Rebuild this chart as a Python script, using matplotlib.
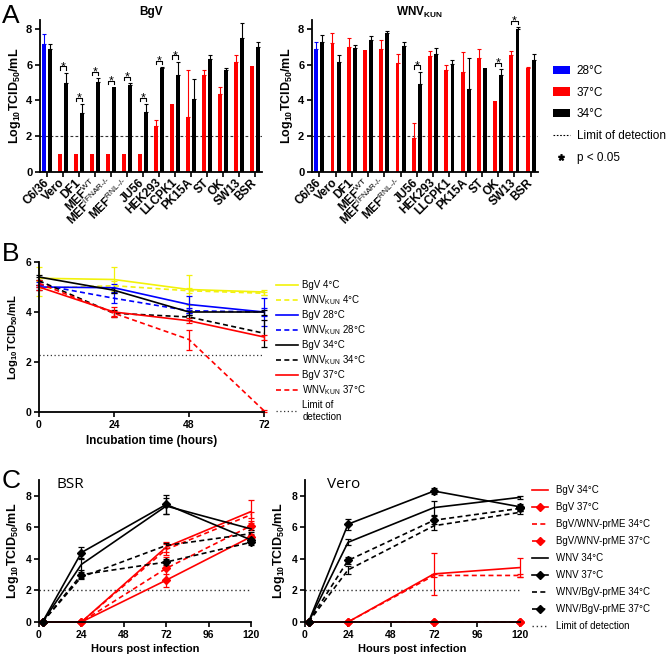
import matplotlib
matplotlib.use("Agg")
import matplotlib.pyplot as plt
from matplotlib.patches import Patch
from matplotlib.lines import Line2D
import numpy as np

plt.rcParams["font.family"] = ["Liberation Sans", "DejaVu Sans"]
plt.rcParams["mathtext.fontset"] = "custom"
plt.rcParams["mathtext.rm"] = "Liberation Sans"
plt.rcParams["mathtext.it"] = "Liberation Sans:italic"
plt.rcParams["mathtext.bf"] = "Liberation Sans:bold"

# ---------------- panel A : titres par lignée cellulaire ----------------
cells = ["C6/36", "Vero", "DF1", r"MEF$^{\rm WT}$", r"MEF$^{\text{IFNAR-/-}}$",
         r"MEF$^{\text{RNL-/-}}$", "JU56", "HEK293", "LLCPK1", "PK15A", "ST", "OK", "SW13", "BSR"]
bgv_warm = [7.15, 1.0, 1.0, 1.0, 1.0, 1.0, 1.0, 2.6, 3.8, 3.05, 5.45, 4.35, 6.15, 5.95]
bgv_warm_err = [0.55, 0, 0, 0, 0, 0, 0, 0.3, 0, 2.65, 0.25, 0.4, 0.4, 0]
bgv_34 = [6.9, 4.95, 3.3, 5.05, 4.75, 4.85, 3.35, 5.8, 5.45, 4.1, 6.3, 5.7, 7.5, 7.0]
bgv_34_err = [0.25, 0.6, 0.5, 0.2, 0, 0.12, 0.45, 0.08, 0.72, 1.1, 0.22, 0.1, 0.85, 0.25]
bgv_sig = [1, 2, 3, 4, 5, 6, 7, 8]

wnv_warm = [6.9, 7.2, 7.0, 6.8, 6.87, 6.08, 1.88, 6.48, 5.72, 5.58, 6.4, 3.95, 6.55, 5.8]
wnv_warm_err = [0.37, 0.55, 0.52, 0, 0.5, 0.5, 0.84, 0.3, 0.25, 1.15, 0.5, 0, 0.2, 0.05]
wnv_34 = [7.25, 6.15, 6.96, 7.4, 7.75, 7.06, 4.9, 6.62, 6.06, 4.63, 5.8, 5.45, 8.0, 6.27]
wnv_34_err = [0.4, 0.42, 0.15, 0.22, 0.12, 0.22, 0.72, 0.32, 0.2, 1.72, 0, 0.3, 0.12, 0.35]
wnv_sig = [6, 11, 12]

# ---------------- panel B : stabilité ----------------
hours_b = [0, 24, 48, 72]
b_labels = ["BgV 4°C", r"WNV$_{\rm KUN}$ 4°C", "BgV 28°C", r"WNV$_{\rm KUN}$ 28°C",
            "BgV 34°C", r"WNV$_{\rm KUN}$ 34°C", "BgV 37°C", r"WNV$_{\rm KUN}$ 37°C"]
b_means = [[5.35, 5.3, 4.9, 4.8],
           [4.95, 5.05, 4.85, 4.75],
           [5.0, 4.97, 4.3, 4.0],
           [5.1, 4.55, 4.05, 4.0],
           [5.4, 4.87, 4.0, 4.0],
           [5.25, 3.95, 3.8, 3.15],
           [5.0, 4.0, 3.65, 3.0],
           [5.15, 3.95, 2.9, 0.05]]
b_errs = [[0.45, 0.5, 0.6, 0.1],
          [0.3, 0.2, 0.1, 0.05],
          [0.1, 0.15, 0.35, 0.55],
          [0.1, 0.2, 0.1, 0.15],
          [0.1, 0.1, 0.1, 0.1],
          [0.15, 0.15, 0.1, 0.55],
          [0.1, 0.2, 0.1, 0.1],
          [0.15, 0.1, 0.4, 0.05]]
b_lod = 2.3

# ---------------- panel C : cinétiques ----------------
hours_c = [2, 24, 72, 120]
c_labels = ["BgV 34°C", "BgV 37°C", "BgV/WNV-prME 34°C", "BgV/WNV-prME 37°C",
            "WNV 34°C", "WNV 37°C", "WNV/BgV-prME 34°C", "WNV/BgV-prME 37°C"]
bsr_means = [[0, 0, 4.75, 7.0],
             [0, 0, 2.65, 5.4],
             [0, 0, 4.6, 6.8],
             [0, 0, 3.4, 6.1],
             [0, 3.65, 7.35, 5.9],
             [0, 4.4, 7.45, 5.2],
             [0, 2.85, 4.85, 5.6],
             [0, 3.0, 3.8, 5.05]]
bsr_errs = [[0, 0, 0.3, 0.75],
            [0, 0, 0.4, 0.2],
            [0, 0, 0.35, 0.2],
            [0, 0, 0.7, 0.3],
            [0, 0.35, 0.5, 0.1],
            [0, 0.35, 0.6, 0.15],
            [0, 0.1, 0.15, 0.1],
            [0, 0.2, 0.2, 0.2]]
vero_means = [[0, 0, 3.05, 3.45],
              [0, 0, 0, 0],
              [0, 0, 2.95, 2.95],
              [0, 0, 0, 0],
              [0, 5.05, 7.25, 7.9],
              [0, 6.2, 8.3, 7.3],
              [0, 3.3, 6.1, 6.95],
              [0, 3.9, 6.45, 7.2]]
vero_errs = [[0, 0, 1.35, 0.6],
             [0, 0, 0, 0],
             [0, 0, 0.1, 0.1],
             [0, 0, 0, 0],
             [0, 0.2, 0.45, 0.1],
             [0, 0.35, 0.2, 0.2],
             [0, 0.25, 0.3, 0.1],
             [0, 0.2, 0.25, 0.15]]
c_lod = 2.0

# ---------------- styles ----------------
BLUE = "#0000ff"; RED = "#ff0000"; YEL = "#f2f20a"; BLK = "black"
DASH = (0, (3, 2)); DOT = (0, (1, 2))
W, H = 670, 658


def box(l, t, r, b):
    return [l / W, 1 - b / H, (r - l) / W, (b - t) / H]


def style(ax, fs=7.5):
    for s in ("top", "right"):
        ax.spines[s].set_visible(False)
    for s in ("left", "bottom"):
        ax.spines[s].set_linewidth(1.3)
    ax.tick_params(width=1.2, length=3.5, labelsize=fs, pad=2)
    for lab in ax.get_xticklabels() + ax.get_yticklabels():
        lab.set_fontweight("bold")


YLAB = r"Log$_{\mathbf{10}}$TCID$_{\mathbf{50}}$/mL"

fig = plt.figure(figsize=(W / 100, H / 100), dpi=100)

# ---- A
OFF, BW = 0.19, 0.24
for ax_box, warm, warm_err, b34, b34_err, sig in [
        (box(40, 20, 262, 172), bgv_warm, bgv_warm_err, bgv_34, bgv_34_err, bgv_sig),
        (box(312, 20, 538, 172), wnv_warm, wnv_warm_err, wnv_34, wnv_34_err, wnv_sig)]:
    ax = fig.add_axes(ax_box)
    x = np.arange(len(cells))
    wcol = [BLUE] + [RED] * (len(cells) - 1)
    ax.bar(x - OFF, warm, BW, color=wcol, zorder=2)
    ax.bar(x + OFF, b34, BW, color=BLK, zorder=2)
    for i in x:
        if warm_err[i] > 0:
            ax.errorbar(i - OFF, warm[i], yerr=[[0], [warm_err[i]]], fmt="none", ecolor=wcol[i],
                        elinewidth=0.8, capsize=1.3, capthick=0.8, zorder=3)
        if b34_err[i] > 0:
            ax.errorbar(i + OFF, b34[i], yerr=[[0], [b34_err[i]]], fmt="none", ecolor=BLK,
                        elinewidth=0.8, capsize=1.3, capthick=0.8, zorder=3)
    for i in sig:
        top = max(warm[i] + warm_err[i], b34[i] + b34_err[i]) + 0.35
        ax.plot([i - OFF, i - OFF, i + OFF, i + OFF], [top - 0.2, top, top, top - 0.2],
                color=BLK, lw=0.8, clip_on=False)
        ax.text(i, top - 0.22, "*", ha="center", va="baseline", fontsize=9, clip_on=False)
    ax.axhline(2, color="#333333", lw=0.8, ls=(0, (2.5, 2)), zorder=1)
    ax.set_xlim(-0.45, 13.45)
    ax.set_ylim(0, 8.5)
    ax.set_yticks([0, 2, 4, 6, 8])
    ax.set_xticks(x)
    ax.set_xticklabels(cells, rotation=45, ha="right", va="center", rotation_mode="anchor")
    style(ax)
    ax.tick_params(axis="x", pad=3, labelsize=8.5)
    ax.tick_params(axis="y", labelsize=8)
    ax.set_ylabel(YLAB, fontsize=9, fontweight="bold", labelpad=2)

fig.text(151 / W, 1 - 12 / H, "BgV", ha="center", va="center", fontsize=8.5, fontweight="bold")
fig.text(419 / W, 1 - 12 / H, r"WNV$_{\mathbf{KUN}}$", ha="center", va="center",
         fontsize=8.5, fontweight="bold")

hA = [Patch(fc=BLUE), Patch(fc=RED), Patch(fc=BLK),
      Line2D([], [], color=BLK, lw=0.8, ls=(0, (1.5, 1.5))),
      Line2D([], [], ls="none", marker="$*$", color=BLK, ms=4)]
fig.legend(hA, ["28°C", "37°C", "34°C", "Limit of detection", "p < 0.05"], loc="upper left",
           bbox_to_anchor=(553 / W, 1 - 65 / H), frameon=False, fontsize=8.5, handlelength=1.4,
           handleheight=0.7, handletextpad=0.6, labelspacing=0.82, borderpad=0, borderaxespad=0)

# ---- B
axB = fig.add_axes(box(39, 262, 264, 412))
b_cols = [YEL, YEL, BLUE, BLUE, BLK, BLK, RED, RED]
b_ls = ["-", DASH] * 4
hB = []
for lab, m, e, c, ls in zip(b_labels, b_means, b_errs, b_cols, b_ls):
    axB.errorbar(hours_b, m, yerr=e, color=c, ls=ls, lw=1.2, elinewidth=0.9,
                 capsize=2.5, capthick=0.9, clip_on=False)
    hB.append(Line2D([], [], color=c, ls=ls, lw=1.2))
axB.plot([0, 72], [b_lod, b_lod], color="#333333", lw=0.9, ls=DOT)
hB.append(Line2D([], [], color="#333333", lw=0.9, ls=DOT))
axB.set_xlim(0, 72)
axB.set_ylim(0, 6)
axB.set_xticks([0, 24, 48, 72])
axB.set_yticks([0, 2, 4, 6])
style(axB)
axB.set_ylabel(YLAB, fontsize=8, fontweight="bold", labelpad=4)
axB.set_xlabel("Incubation time (hours)", fontsize=8.5, fontweight="bold", labelpad=4)
fig.legend(hB, b_labels + ["Limit of\ndetection"], loc="upper left",
           bbox_to_anchor=(276 / W, 1 - 280 / H), frameon=False, fontsize=7, handlelength=2.3,
           handletextpad=0.4, labelspacing=0.32, borderpad=0, borderaxespad=0)

# ---- C
c_cols = [RED] * 4 + [BLK] * 4
c_ls = ["-", "-", DASH, DASH] * 2
c_mk = [None, "D"] * 4
for ax_box, means, errs, ttl, tx in [(box(39, 480, 251, 622), bsr_means, bsr_errs, "BSR", 57),
                                     (box(305, 480, 520, 622), vero_means, vero_errs, "Vero", 327)]:
    ax = fig.add_axes(ax_box)
    for m, e, c, ls, mk in zip(means, errs, c_cols, c_ls, c_mk):
        ax.errorbar(hours_c, m, yerr=e, color=c, ls=ls, lw=1.2, marker=mk, ms=4,
                    elinewidth=0.9, capsize=2.5, capthick=0.9, clip_on=False)
    ax.plot([0, 120], [c_lod, c_lod], color="#333333", lw=1.0, ls=DOT)
    ax.set_xlim(0, 120)
    ax.set_ylim(0, 9)
    ax.set_xticks([0, 24, 48, 72, 96, 120])
    ax.set_yticks([0, 2, 4, 6, 8])
    style(ax)
    ax.set_ylabel(YLAB, fontsize=9, fontweight="bold", labelpad=3)
    ax.set_xlabel("Hours post infection", fontsize=8, fontweight="bold", labelpad=3)
    fig.text(tx / W, 1 - 485 / H, ttl, ha="left", va="center", fontsize=11,
             family=["Open Sans", "DejaVu Sans"])

hC = [Line2D([], [], color=c, ls=ls, lw=1.2, marker=mk, ms=4)
      for c, ls, mk in zip(c_cols, c_ls, c_mk)]
hC.append(Line2D([], [], color="#333333", lw=1.0, ls=DOT))
fig.legend(hC, c_labels + ["Limit of detection"], loc="upper left",
           bbox_to_anchor=(532 / W, 1 - 485 / H), frameon=False, fontsize=7, handlelength=1.6,
           handletextpad=0.9, labelspacing=0.72, borderpad=0, borderaxespad=0)

# lettres des panneaux
for lt, y in [("A", 16), ("B", 254), ("C", 481)]:
    fig.text(2 / W, 1 - y / H, lt, ha="left", va="center", fontsize=19)

fig.savefig("out.png", dpi=100)
